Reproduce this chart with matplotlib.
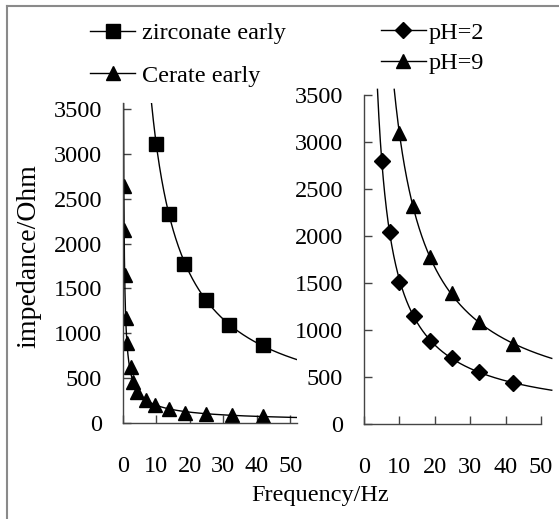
import numpy as np
import matplotlib
matplotlib.use("Agg")
import matplotlib.pyplot as plt
from matplotlib.lines import Line2D

plt.rcParams['font.family'] = ['Liberation Serif', 'DejaVu Serif']
plt.rcParams['font.size'] = 17.5

# data
zr_freq = [10, 13.8, 18.3, 24.8, 31.7, 41.9]
zr_imp = [3110, 2330, 1775, 1375, 1095, 865]

ce_freq = [0.25, 0.35, 0.5, 0.8, 1.2, 2.3, 3.1, 4.2, 6.9, 9.6, 13.8, 18.6, 24.8, 32.6, 42.0]
ce_imp = [2640, 2150, 1650, 1175, 890, 620, 455, 345, 255, 200, 155, 115, 100, 88, 78]

ph2_freq = [5.1, 7.3, 9.9, 14.1, 18.6, 24.9, 32.5, 42.1]
ph2_imp = [2800, 2045, 1510, 1150, 880, 700, 555, 440]

ph9_freq = [9.9, 13.9, 18.6, 24.9, 32.5, 42.1]
ph9_imp = [3100, 2320, 1775, 1390, 1080, 850]

yticks = [0, 500, 1000, 1500, 2000, 2500, 3000, 3500]
xticks = [0, 10, 20, 30, 40, 50]


def power_fit(x, y, xmax, ytop):
    # power-law trendline through the points
    b, a = np.polyfit(np.log(x), np.log(y), 1)
    xmin = np.exp((np.log(ytop) - a) / b)
    xs = np.linspace(xmin, xmax, 600)
    return xs, np.exp(a) * xs ** b


def style_axes(ax, ylim_top, xlim_right):
    ax.set_xlim(0, xlim_right)
    ax.set_ylim(0, ylim_top)
    ax.set_xticks(xticks)
    ax.set_yticks(yticks)
    for s in ['top', 'right']:
        ax.spines[s].set_visible(False)
    for s in ['left', 'bottom']:
        ax.spines[s].set_color('#444444')
        ax.spines[s].set_linewidth(1.0)
    ax.tick_params(axis='y', direction='in', length=6, width=1, color='#444444', pad=15)
    ax.tick_params(axis='x', direction='in', length=6, width=1, color='#444444', pad=24)


fig = plt.figure(figsize=(5.59, 5.19), dpi=100)

ax1 = fig.add_axes([0.220, 0.185, 0.311, 0.617])
ax2 = fig.add_axes([0.651, 0.183, 0.317, 0.634])

mk = dict(color='black', linestyle='none', markeredgecolor='black')

# left panel
xs, ys = power_fit(zr_freq, zr_imp, 52, 3570)
ax1.plot(xs, ys, color='black', lw=1.0)
xs, ys = power_fit(ce_freq, ce_imp, 52, 3570)
ax1.plot(xs, ys, color='black', lw=1.0)
ax1.plot(zr_freq, zr_imp, marker='s', markersize=10, **mk)
ax1.plot(ce_freq, ce_imp, marker='^', markersize=10, **mk)
style_axes(ax1, 3570, 52)

# right panel
xs, ys = power_fit(ph2_freq, ph2_imp, 53, 3560)
ax2.plot(xs, ys, color='black', lw=1.0, clip_on=False)
xs, ys = power_fit(ph9_freq, ph9_imp, 53, 3560)
ax2.plot(xs, ys, color='black', lw=1.0, clip_on=False)
ax2.plot(ph2_freq, ph2_imp, marker='D', markersize=8, clip_on=False, **mk)
ax2.plot(ph9_freq, ph9_imp, marker='^', markersize=10, clip_on=False, **mk)
style_axes(ax2, 3500, 50)

# legends
h_zr = Line2D([], [], color='black', lw=1, marker='s', markersize=10)
h_ce = Line2D([], [], color='black', lw=1, marker='^', markersize=10)
h_p2 = Line2D([], [], color='black', lw=1, marker='D', markersize=8)
h_p9 = Line2D([], [], color='black', lw=1, marker='^', markersize=10)

fig.legend([h_zr, h_ce], ['zirconate early', 'Cerate early'], loc='upper left',
           bbox_to_anchor=(0.131, 0.99), frameon=False, handlelength=1.85,
           handletextpad=0.3, labelspacing=0.85, borderaxespad=0.3)
fig.legend([h_p2, h_p9], ['pH=2', 'pH=9'], loc='upper left',
           bbox_to_anchor=(0.651, 0.991), frameon=False, handlelength=1.85,
           handletextpad=0.1, labelspacing=0.35, borderaxespad=0.3)

ax1.set_ylabel('impedance/Ohm', fontsize=20)
ax1.yaxis.set_label_coords(-0.47, 0.52)
fig.text(0.572, 0.046, 'Frequency/Hz', ha='center', va='center')

# gray frame on the left and top edges
fig.add_artist(Line2D([7 / 559, 7 / 559], [0, 1 - 6 / 519], color='#8a8a8a', lw=1.5))
fig.add_artist(Line2D([7 / 559, 1], [1 - 6 / 519, 1 - 6 / 519], color='#8a8a8a', lw=1.5))

fig.savefig('out.png', dpi=100)
